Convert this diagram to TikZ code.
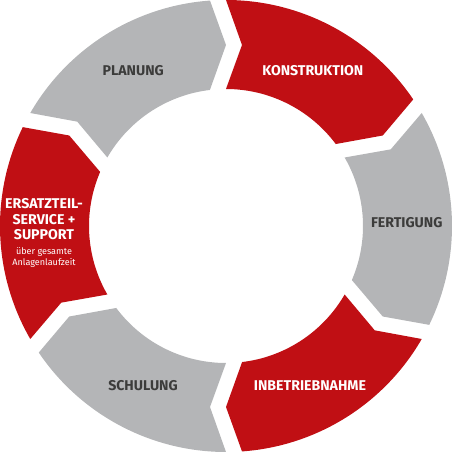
\documentclass[tikz,border=0pt]{standalone}
\usepackage{fontspec}
\setmainfont{Fira Sans}
\usepackage{tikz}
\usetikzlibrary{positioning}

\definecolor{cyclered}{RGB}{192,15,20}
\definecolor{cyclegray}{RGB}{180,181,183}
\definecolor{labeldark}{RGB}{60,60,59}

\begin{document}
\begin{tikzpicture}
    \tikzstyle{redlabel} = [anchor=base, text=white, font=\bfseries\fontsize{14.2}{16}\selectfont, inner sep=0pt]
    \tikzstyle{graylabel} = [anchor=base, text=labeldark, font=\bfseries\fontsize{14.2}{16}\selectfont, inner sep=0pt]
    \tikzstyle{smalllabel} = [anchor=base, text=white, font=\fontsize{9.1}{11}\selectfont, inner sep=0pt]

    \useasboundingbox (-226bp,-226bp) rectangle (226bp,226bp);

    % ring segments, head of each arrow at angle \h
    \foreach \h/\col in {90/cyclegray, 30/cyclered, -30/cyclegray, -90/cyclered, -150/cyclegray, 150/cyclered}{
        \fill[\col] (\h+60:226bp) arc[start angle=\h+60, end angle=\h+4.06, radius=226bp]
            -- (\h:181bp) -- (\h+6.75:137bp)
            arc[start angle=\h+6.75, end angle=\h+60, radius=137bp]
            -- (\h+54.95:181.7bp) -- cycle;
    }

    \node (plan) [graylabel] at (-92.8bp,150bp) {PLANUNG};
    \node (konst) [redlabel] at (86.8bp,150bp) {KONSTRUKTION};
    \node (fert) [graylabel] at (180.7bp,-1.3bp) {FERTIGUNG};
    \node (inbetr) [redlabel] at (84bp,-164bp) {INBETRIEBNAHME};
    \node (schul) [graylabel] at (-83bp,-164bp) {SCHULUNG};

    \node (ers1) [redlabel] at (-182bp,17.7bp) {ERSATZTEIL-};
    \node (ers2) [redlabel] at (-182bp,1.7bp) {SERVICE +};
    \node (ers3) [redlabel] at (-182bp,-13.3bp) {SUPPORT};
    \node (ers4) [smalllabel] at (-182bp,-28bp) {über gesamte};
    \node (ers5) [smalllabel] at (-182bp,-39bp) {Anlagenlaufzeit};
\end{tikzpicture}
\end{document}
